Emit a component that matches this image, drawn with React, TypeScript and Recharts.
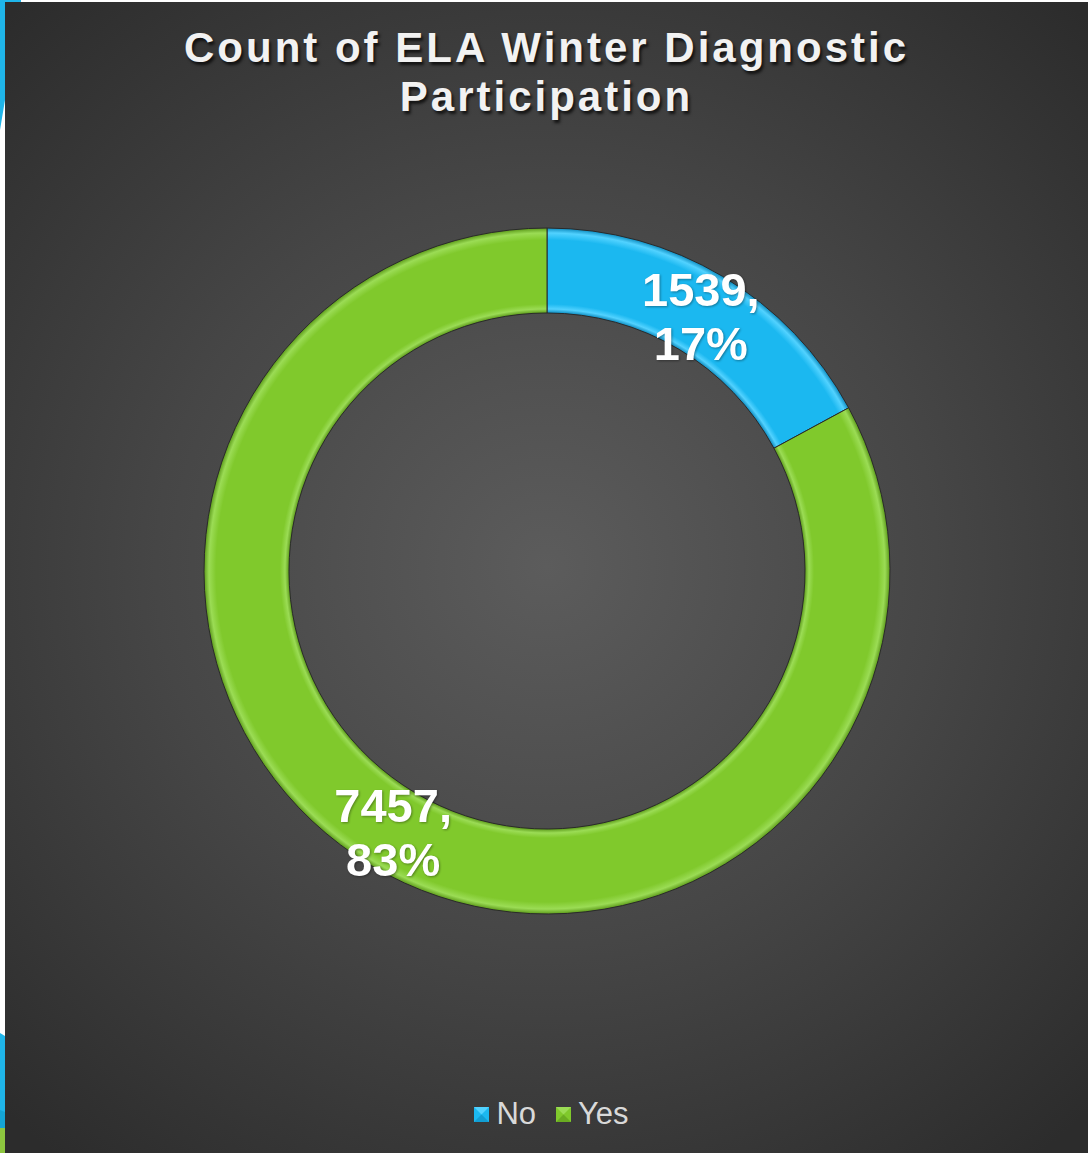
import { PieChart, Pie, Cell, Legend } from "recharts";

const categories = ["No", "Yes"];
const counts = [1539, 7457];
const colors = ["#1bb8f0", "#80c92c"];
const lightColors = ["#52d2ff", "#9bdc55"];
const darkColors = ["#0e8cc0", "#5c9a1a"];

const data = categories.map((name, i) => ({ name, value: counts[i] }));

const W = 1083;
const H = 1151;
const CX = 542;
const CY = 569;
const INNER = 258;
const OUTER = 343;
const RAD = Math.PI / 180;

const renderLabel = (props: any) => {
  const { cx, cy, midAngle, innerRadius, outerRadius, value, percent } = props;
  const r = (innerRadius + outerRadius) / 2;
  const x = cx + r * Math.cos(-midAngle * RAD);
  const y = cy + r * Math.sin(-midAngle * RAD);
  return (
    <text
      x={x}
      y={y}
      textAnchor="middle"
      fill="#ffffff"
      fontFamily="'Liberation Sans', Arial, sans-serif"
      fontWeight="bold"
      fontSize={47}
      style={{ filter: "drop-shadow(1px 1px 1px rgba(0,0,0,0.35))" }}
    >
      <tspan x={x} y={y - 7}>{value},</tspan>
      <tspan x={x} y={y + 47}>{Math.round(percent * 100)}%</tspan>
    </text>
  );
};

const LegendIcon = ({ i }: { i: number }) => (
  <svg width={15} height={15} style={{ marginRight: 7 }}>
    <rect x={0} y={0} width={15} height={15} fill={colors[i]} />
    <polygon points="0,0 15,0 7.5,7.5" fill={lightColors[i]} />
    <polygon points="0,15 15,15 7.5,7.5" fill={darkColors[i]} opacity={0.6} />
  </svg>
);

const renderLegend = () => (
  <div
    style={{
      display: "flex",
      justifyContent: "center",
      alignItems: "center",
      fontFamily: "'Liberation Sans', Arial, sans-serif",
      fontSize: 31,
      color: "#d9d9d9",
      lineHeight: "34px",
      paddingLeft: 10,
    }}
  >
    {categories.map((c, i) => (
      <div key={c} style={{ display: "flex", alignItems: "center", marginRight: i === 0 ? 20 : 0 }}>
        <LegendIcon i={i} />
        <span>{c}</span>
      </div>
    ))}
  </div>
);

const App = () => {
  return (
    <div style={{ position: "absolute", left: 0, top: 0, width: 1088, height: 1153, background: "#ffffff", overflow: "hidden" }}>
      <svg width={1088} height={1153} style={{ position: "absolute", left: 0, top: 0 }}>
        <polygon points="0,0 21,0 21,2 5,2 5,100 0,130" fill="#1fb5e9" />
        <polygon points="0,1033 5,1036 5,1128 0,1128" fill="#1fb5e9" />
        <polygon points="0,1110 5,1112 5,1128 0,1128" fill="#14a5d5" />
        <polygon points="0,1128 5,1128 5,1153 0,1153" fill="#8dc63f" />
      </svg>
      <div
        style={{
          position: "absolute",
          left: 5,
          top: 2,
          width: W,
          height: H,
          background: "radial-gradient(ellipse 72% 66% at 50% 49%, #5c5c5c 0%, #464646 50%, #2c2c2c 100%)",
        }}
      >
        <div
          style={{
            position: "absolute",
            top: 21,
            left: 0,
            width: W,
            textAlign: "center",
            fontFamily: "'Liberation Sans', Arial, sans-serif",
            fontWeight: "bold",
            fontSize: 42,
            letterSpacing: 3,
            lineHeight: "49px",
            color: "#f2f2f2",
            textShadow: "2px 3px 3px rgba(0,0,0,0.7)",
          }}
        >
          Count of ELA Winter Diagnostic
          <br />
          Participation
        </div>
        <PieChart width={W} height={H} margin={{ top: 0, right: 0, bottom: 0, left: 0 }}>
          <defs>
            {colors.map((c, i) => (
              <radialGradient
                key={i}
                id={`bevel${i}`}
                gradientUnits="userSpaceOnUse"
                cx={CX}
                cy={CY}
                r={OUTER}
              >
                <stop offset={INNER / OUTER} stopColor={darkColors[i]} />
                <stop offset={(INNER + 4) / OUTER} stopColor={lightColors[i]} />
                <stop offset={(INNER + 9) / OUTER} stopColor={c} />
                <stop offset={(OUTER - 12) / OUTER} stopColor={c} />
                <stop offset={(OUTER - 5) / OUTER} stopColor={lightColors[i]} />
                <stop offset={1} stopColor={darkColors[i]} />
              </radialGradient>
            ))}
          </defs>
          <Pie
            data={data}
            dataKey="value"
            nameKey="name"
            cx={CX}
            cy={CY}
            innerRadius={INNER}
            outerRadius={OUTER}
            startAngle={90}
            endAngle={-270}
            stroke="#2a2a2a"
            strokeWidth={1}
            label={renderLabel}
            labelLine={false}
            isAnimationActive={false}
          >
            {data.map((d, i) => (
              <Cell key={d.name} fill={`url(#bevel${i})`} />
            ))}
          </Pie>
          <Legend verticalAlign="bottom" content={renderLegend} wrapperStyle={{ bottom: 22, left: 0, width: W }} />
        </PieChart>
      </div>
    </div>
  );
};

export default App;
